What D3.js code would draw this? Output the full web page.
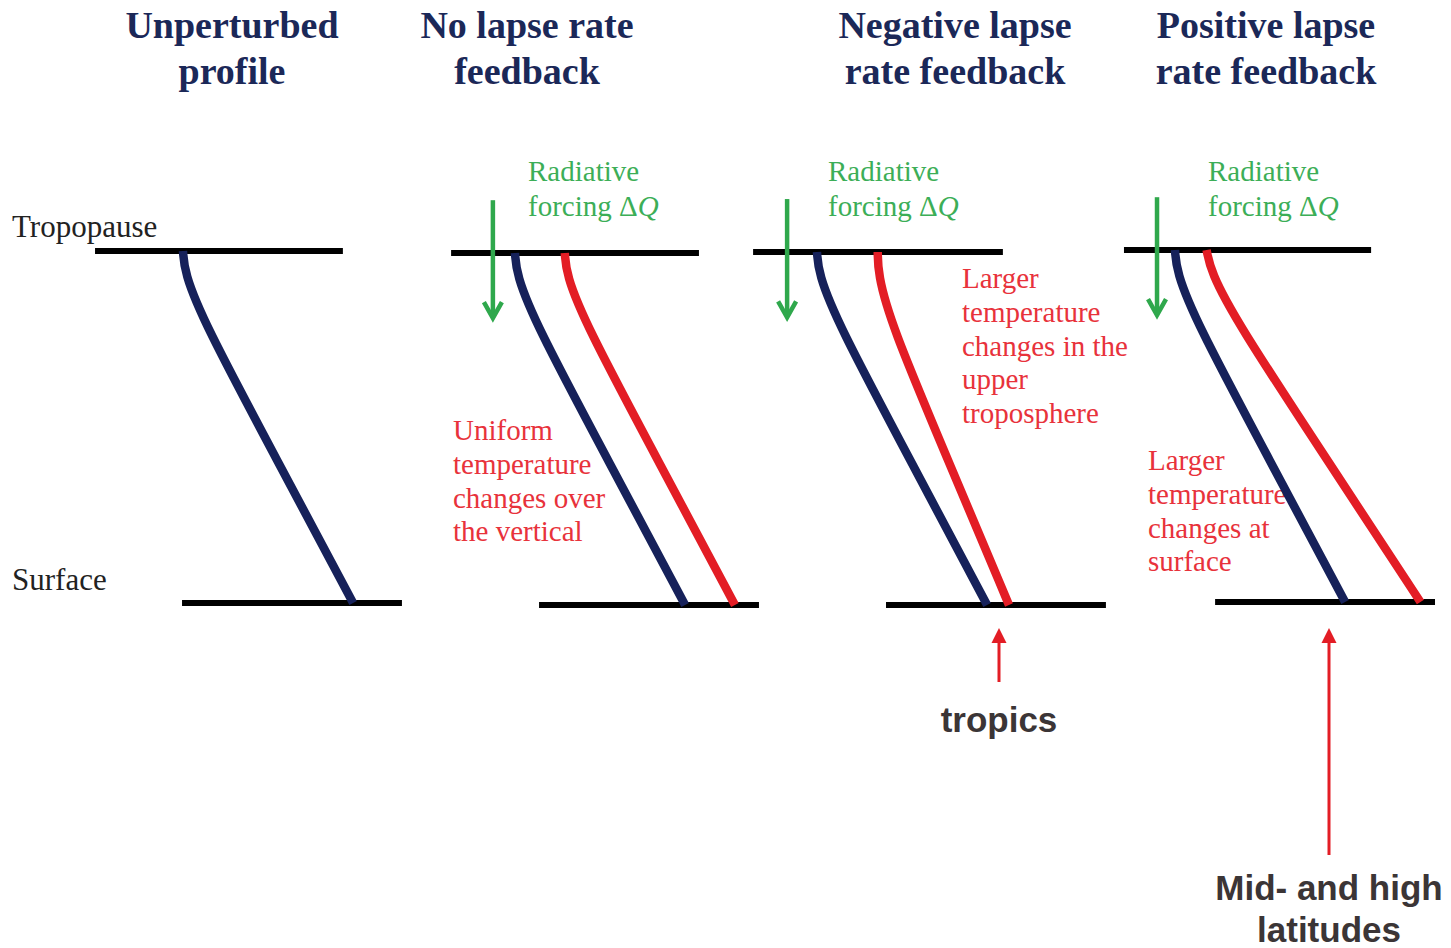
<!DOCTYPE html>
<html>
<head>
<meta charset="utf-8">
<script src="https://cdn.jsdelivr.net/npm/d3@7"></script>
<style>
  html, body { margin: 0; padding: 0; background: #fff; }
  svg { display: block; }
</style>
</head>
<body>
<svg id="chart" width="1451" height="948"></svg>
<script>
// ---------------- DATA ----------------
// Panel titles
const panelTitles = [
  ["Unperturbed", "profile"],
  ["No lapse rate", "feedback"],
  ["Negative lapse", "rate feedback"],
  ["Positive lapse", "rate feedback"]
];
// Heights as fraction of troposphere depth (0 = surface, 1 = tropopause)
const heights = [0, 0.4, 0.8, 0.94, 1];
// Unperturbed temperature profile (K, schematic; control points of a smooth curve)
const unperturbedT = [288, 257.16, 226.32, 218.6, 218];
// Perturbed (warmed) profiles per panel
const warmedUniformT  = [308.5, 277.66, 246.82, 239.1, 238.5];
const warmedNegativeT = [297, 272.56, 248.12, 243.1, 243];
const warmedPositiveT = [319, 280.96, 242.92, 232.68, 231];
// Which warmed profile each panel shows (null = none)
const panelWarmed = [null, warmedUniformT, warmedNegativeT, warmedPositiveT];
// Horizontal extents (K) of the tropopause and surface bars per panel
const tropopauseSpan = [[181.8, 283.8], [191.7, 293.7], [191.7, 294.5], [197.0, 298.7]];
const surfaceSpan    = [[217.6, 308.1], [227.9, 318.4], [246.4, 336.9], [234.5, 325.0]];
// Radiative forcing arrow temperature position per panel (null = none)
const forcingArrowT = [null, 208.9, 205.7, 210.6];
const forcingArrowZ = [1.15, 0.815];

// Annotation texts
const levelLabels = ["Tropopause", "Surface"];
const forcingLabel = ["Radiative", "forcing "];
const redNotes = [
  null,
  ["Uniform", "temperature", "changes over", "the vertical"],
  ["Larger", "temperature", "changes in the", "upper", "troposphere"],
  ["Larger", "temperature", "changes at", "surface"]
];
const regionLabels = [["tropics"], ["Mid- and high", "latitudes"]];

// ---------------- LAYOUT ----------------
const pxPerK = 2.43;
const panelOriginX = [183, 515, 817, 1175];
const panelTropY   = [251, 253, 252, 250];
const panelSurfY   = [603, 605, 605, 602];
const titleCenterX = [232, 527, 955, 1266];
const forcingTextX = [null, 528, 828, 1208];
const redNoteX = [null, 453, 962, 1148];
const redNoteY0 = [null, 440, 288, 470];
const lineGap = 33.8;

const COL_TITLE = "#1b2858";
const COL_BLUE = "#16215a";
const COL_RED = "#e31d25";
const COL_GREEN = "#2fa84c";
const COL_GREEN_TXT = "#3cae57";
const COL_REDTXT = "#e8323b";
const COL_GRAY = "#3b3536";
const SERIF = "'Liberation Serif', 'Times New Roman', serif";
const SANS = "'Liberation Sans', Arial, sans-serif";

const svg = d3.select("#chart");

// Titles
panelTitles.forEach((lines, i) => {
  const t = svg.append("text")
    .attr("x", titleCenterX[i]).attr("y", 38)
    .attr("text-anchor", "middle")
    .attr("font-family", SERIF).attr("font-weight", "bold")
    .attr("font-size", 38).attr("fill", COL_TITLE);
  lines.forEach((ln, j) => {
    t.append("tspan").attr("x", titleCenterX[i]).attr("y", 38 + j * 46).text(ln);
  });
});

// Level labels
svg.append("text").attr("x", 12).attr("y", 237)
  .attr("font-family", SERIF).attr("font-size", 31).attr("fill", "#222")
  .text(levelLabels[0]);
svg.append("text").attr("x", 12).attr("y", 590)
  .attr("font-family", SERIF).attr("font-size", 31).attr("fill", "#222")
  .text(levelLabels[1]);

const line = d3.line().curve(d3.curveBasis);

panelTitles.forEach((_, i) => {
  const x = d3.scaleLinear().domain([218, 218 + 170 / pxPerK])
    .range([panelOriginX[i], panelOriginX[i] + 170]);
  const y = d3.scaleLinear().domain([0, 1]).range([panelSurfY[i], panelTropY[i]]);
  const g = svg.append("g");

  // red explanatory notes (under the lines)
  if (redNotes[i]) {
    const t = g.append("text")
      .attr("font-family", SERIF).attr("font-size", 29).attr("fill", COL_REDTXT);
    redNotes[i].forEach((ln, j) => {
      t.append("tspan").attr("x", redNoteX[i]).attr("y", redNoteY0[i] + j * lineGap).text(ln);
    });
  }

  // forcing label
  if (forcingArrowT[i] !== null) {
    const t = g.append("text")
      .attr("font-family", SERIF).attr("font-size", 29).attr("fill", COL_GREEN_TXT);
    t.append("tspan").attr("x", forcingTextX[i]).attr("y", 181).text(forcingLabel[0]);
    t.append("tspan").attr("x", forcingTextX[i]).attr("y", 216).text(forcingLabel[1]);
    t.append("tspan").text("\u0394");
    t.append("tspan").attr("font-style", "italic").text("Q");
  }

  // tropopause & surface bars
  g.append("line")
    .attr("x1", x(tropopauseSpan[i][0])).attr("x2", x(tropopauseSpan[i][1]))
    .attr("y1", y(1)).attr("y2", y(1))
    .attr("stroke", "#000").attr("stroke-width", 6);
  g.append("line")
    .attr("x1", x(surfaceSpan[i][0])).attr("x2", x(surfaceSpan[i][1]))
    .attr("y1", y(0)).attr("y2", y(0))
    .attr("stroke", "#000").attr("stroke-width", 6);

  // profiles
  const prof = heights.map((z, k) => [x(unperturbedT[k]), y(z)]);
  g.append("path").attr("d", line(prof))
    .attr("fill", "none").attr("stroke", COL_BLUE).attr("stroke-width", 8.5);
  if (panelWarmed[i]) {
    const w = heights.map((z, k) => [x(panelWarmed[i][k]), y(z)]);
    g.append("path").attr("d", line(w))
      .attr("fill", "none").attr("stroke", COL_RED).attr("stroke-width", 8.5);
  }

  // forcing arrow
  if (forcingArrowT[i] !== null) {
    const ax = x(forcingArrowT[i]);
    const yTop = y(forcingArrowZ[0]), yTip = y(forcingArrowZ[1]);
    g.append("line").attr("x1", ax).attr("x2", ax).attr("y1", yTop).attr("y2", yTip - 2)
      .attr("stroke", COL_GREEN).attr("stroke-width", 4.5);
    g.append("path")
      .attr("d", `M${ax - 9},${yTip - 16} L${ax},${yTip} L${ax + 9},${yTip - 16}`)
      .attr("fill", "none").attr("stroke", COL_GREEN).attr("stroke-width", 4.5)
      .attr("stroke-linejoin", "miter");
  }

  // region arrows
  if (i === 2 || i === 3) {
    const r = i - 2;
    const ax = i === 2 ? 999 : 1329;
    const yBottom = i === 2 ? 682 : 855;
    const yTip = 628;
    g.append("line").attr("x1", ax).attr("x2", ax).attr("y1", yBottom).attr("y2", yTip + 14)
      .attr("stroke", COL_RED).attr("stroke-width", 3);
    g.append("path")
      .attr("d", `M${ax},${yTip} L${ax - 7.5},${yTip + 15} L${ax + 7.5},${yTip + 15} Z`)
      .attr("fill", COL_RED);
    const t = g.append("text").attr("text-anchor", "middle")
      .attr("font-family", SANS).attr("font-weight", "bold")
      .attr("font-size", 35).attr("fill", COL_GRAY);
    const y0 = i === 2 ? 732 : 900;
    regionLabels[r].forEach((ln, j) => {
      t.append("tspan").attr("x", ax).attr("y", y0 + j * 42).text(ln);
    });
  }
});
</script>
</body>
</html>
